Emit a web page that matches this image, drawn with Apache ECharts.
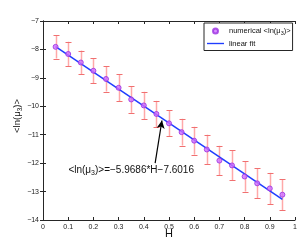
<!DOCTYPE html>
<html><head><meta charset="utf-8">
<script src="https://cdn.jsdelivr.net/npm/echarts@6/dist/echarts.min.js"></script>
<style>html,body{margin:0;padding:0;background:#fff}#c{width:300px;height:242px}</style>
</head><body><div id="c"></div>
<script>
const H = [0.05,0.10,0.15,0.20,0.25,0.30,0.35,0.40,0.45,0.50,0.55,0.60,0.65,0.70,0.75,0.80,0.85,0.90,0.95];
const meanLn = [-7.91,-8.16,-8.46,-8.75,-9.04,-9.35,-9.76,-9.97,-10.27,-10.60,-10.91,-11.21,-11.52,-11.91,-12.08,-12.47,-12.71,-12.89,-13.11];
const errs = [0.41,0.43,0.42,0.44,0.44,0.47,0.47,0.48,0.46,0.46,0.47,0.49,0.52,0.52,0.53,0.53,0.53,0.55,0.54];
const fitH = [0.05,0.95];
const fitY = [-7.900,-13.271];
const xTicks = [0,0.1,0.2,0.3,0.4,0.5,0.6,0.7,0.8,0.9,1];
const yTicks = [-14,-13,-12,-11,-10,-9,-8,-7];
const annText = '<ln(μ{s|3})>=−5.9686*H−7.6016';
const arrowTail = [0.445,-12.0];
const arrowHead = [0.472,-10.5];
const annPos = [0.350,-12.25];

const FONT = 'Liberation Sans, Arial, sans-serif';
const fmt = v => { const s = String(Math.round(v*10)/10); return s.replace('-', '−'); };
const chart = echarts.init(document.getElementById('c'), null, {renderer:'canvas'});
const axisCommon = {
  axisLine:{show:true,lineStyle:{color:'#262626',width:1}},
  axisTick:{show:true,inside:true,length:3,lineStyle:{color:'#262626'}},
  splitLine:{show:false}
};
const option = {
  animation:false,
  backgroundColor:'#fff',
  grid:{left:43,right:5,top:21,bottom:22,containLabel:false,outerBoundsMode:'none'},
  legend:{
    left:204, top:23, orient:'vertical',
    backgroundColor:'#fff', borderColor:'#262626', borderWidth:1, borderRadius:0,
    padding:[4,2,3,3], itemGap:3, itemWidth:17, itemHeight:5,
    textStyle:{fontFamily:FONT,fontSize:7.5,color:'#111',
      rich:{s:{fontFamily:FONT,fontSize:5.5,color:'#111',padding:[5,0,0,0]}}},
    formatter: n => n==='numerical' ? 'numerical <ln(μ{s|3})>' : n,
    data:[{name:'numerical',icon:'circle'},{name:'linear fit',icon:'path://M0,0H20V1.6H0Z'}]
  },
  xAxis:[
    Object.assign({type:'value',min:0,max:1,interval:0.1,position:'bottom',
      name:'H',nameLocation:'middle',nameGap:8,nameMoveOverlap:false,
      nameTextStyle:{fontFamily:FONT,fontSize:11,color:'#111',verticalAlign:'top'},
      axisLabel:{fontFamily:FONT,fontSize:7,color:'#222',margin:4,formatter:fmt,showMinLabel:true,showMaxLabel:true}},axisCommon),
    Object.assign({type:'value',min:0,max:1,interval:0.1,position:'top',axisLabel:{show:false}},axisCommon)
  ],
  yAxis:[
    Object.assign({type:'value',min:-14,max:-7,interval:1,position:'left',
      name:'<ln(μ{s|3})>',nameLocation:'middle',nameGap:19,nameRotate:90,nameMoveOverlap:false,
      nameTextStyle:{fontFamily:FONT,fontSize:9.5,color:'#111',padding:[0,0,0,9],
        rich:{s:{fontFamily:FONT,fontSize:6.5,color:'#111',padding:[6,0,0,0]}}},
      axisLabel:{fontFamily:FONT,fontSize:7,color:'#222',margin:4,formatter:fmt}},axisCommon),
    Object.assign({type:'value',min:-14,max:-7,interval:1,position:'right',axisLabel:{show:false}},axisCommon)
  ],
  series:[
    {
      name:'errorbars', type:'custom', xAxisIndex:0, yAxisIndex:0, z:2,
      data:H.map((h,i)=>[h,meanLn[i],errs[i]]),
      renderItem:(params,api)=>{
        const x=api.value(0), y=api.value(1), e=api.value(2);
        const top=api.coord([x,y+e]), bot=api.coord([x,y-e]);
        const cw=3;
        const px=Math.round(top[0])+0.5;
        return {type:'group',children:[
          {type:'line',shape:{x1:px,y1:top[1],x2:px,y2:bot[1]},style:{stroke:'#ffa8a8',lineWidth:1.5}},
          {type:'line',shape:{x1:px-cw,y1:Math.round(top[1])+0.5,x2:px+cw,y2:Math.round(top[1])+0.5},style:{stroke:'#f07070',lineWidth:1}},
          {type:'line',shape:{x1:px-cw,y1:Math.round(bot[1])+0.5,x2:px+cw,y2:Math.round(bot[1])+0.5},style:{stroke:'#f07070',lineWidth:1}}
        ]};
      }
    },
    {
      name:'linear fit', type:'line', xAxisIndex:0, yAxisIndex:0, z:3,
      data:fitH.map((h,i)=>[h,fitY[i]]), symbol:'none', showSymbol:false,
      lineStyle:{color:'#1f3dff',width:1.5}, itemStyle:{color:'#1f3dff'},
      markLine:{
        silent:true, symbol:['none','arrow'], symbolSize:[6,8],
        lineStyle:{color:'#000',width:1.2,type:'solid'},
        label:{show:false},
        data:[[{coord:arrowTail},{coord:arrowHead}]]
      }
    },
    {
      name:'numerical', type:'scatter', xAxisIndex:0, yAxisIndex:0, z:4,
      data:H.map((h,i)=>[h,meanLn[i]]), symbol:'circle', symbolSize:5,
      itemStyle:{color:'#d070ff',borderColor:'#9a30e0',borderWidth:1}
    }
  ]
};
chart.setOption(option);
const p = chart.convertToPixel({xAxisIndex:0,yAxisIndex:0}, annPos);
chart.setOption({graphic:[{type:'text',x:p[0],y:p[1],z:10,
  style:{text:annText,fontFamily:FONT,fontSize:10,fill:'#111',align:'center',verticalAlign:'middle',
    rich:{s:{fontFamily:FONT,fontSize:7,fill:'#111',padding:[6,0,0,0]}}}}]});
</script></body></html>
